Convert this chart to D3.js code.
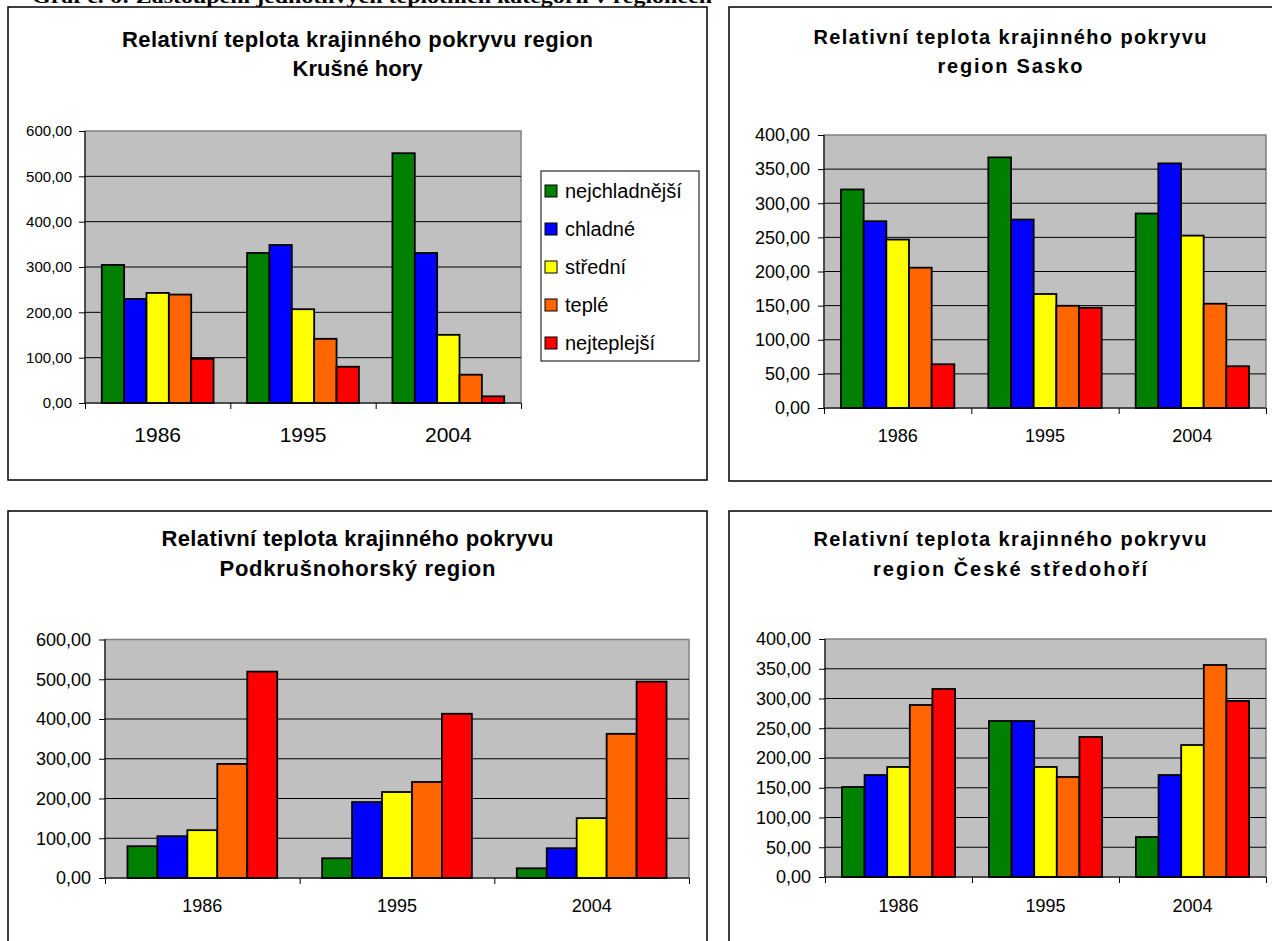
<!DOCTYPE html>
<html>
<head>
<meta charset="utf-8">
<script src="https://cdn.jsdelivr.net/npm/d3@7"></script>
<style>
  body { margin: 0; background: #fff; }
  svg { display: block; font-family: "Liberation Sans", Arial, sans-serif; }
</style>
</head>
<body>
<svg id="chart"></svg>
<script>
const width = 1272;
const height = 941;

// --- data ---
const years = ["1986", "1995", "2004"];
const categories = ["nejchladnější", "chladné", "střední", "teplé", "nejteplejší"];
const colors = ["#008000", "#0000ff", "#ffff00", "#ff6600", "#ff0000"];

// values per year, in category order
const krusneHory = [
  [304.5, 229.6, 242.8, 239.2, 97.6],
  [330.9, 348.5, 206.9, 141.6, 80.0],
  [551.0, 330.9, 150.4, 62.4, 14.7]
];
const sasko = [
  [320.2, 273.7, 246.8, 205.6, 64.1],
  [367.2, 276.1, 167.0, 149.8, 146.9],
  [285.0, 358.4, 252.6, 152.8, 61.2]
];
const podkrusnohorsky = [
  [80.0, 105.2, 120.3, 287.0, 519.2],
  [49.7, 191.0, 216.3, 241.5, 413.2],
  [24.4, 74.9, 150.6, 362.7, 494.0]
];
const ceskeStredohori = [
  [151.3, 171.4, 184.9, 289.1, 316.0],
  [262.2, 262.2, 184.9, 168.1, 235.3],
  [67.2, 171.4, 221.8, 356.3, 295.8]
];

const titles = {
  krusne: ["Relativní teplota krajinného pokryvu region", "Krušné hory"],
  sasko: ["Relativní teplota krajinného pokryvu", "region Sasko"],
  podkr: ["Relativní teplota krajinného pokryvu", "Podkrušnohorský region"],
  ceske: ["Relativní teplota krajinného pokryvu", "region České středohoří"]
};

const heading = "Graf č. 6: Zastoupení jednotlivých teplotních kategorií v regionech";

const fmt = d3.formatLocale({ decimal: ",", thousands: " ", grouping: [3], currency: ["", ""] }).format(".2f");

const svg = d3.select("#chart")
  .attr("width", width)
  .attr("height", height)
  .attr("viewBox", [0, 0, width, height]);

// document caption at the very top (cut by the page edge, as in the scan)
svg.append("text")
  .attr("x", 32)
  .attr("y", 3)
  .attr("font-family", "Liberation Serif, Times New Roman, serif")
  .attr("font-weight", "bold")
  .attr("font-size", 19)
  .attr("textLength", 680)
  .attr("lengthAdjust", "spacingAndGlyphs")
  .text(heading);

function drawPanel(cfg) {
  const g = svg.append("g");

  // outer chart border
  g.append("rect")
    .attr("x", cfg.box[0]).attr("y", cfg.box[1])
    .attr("width", cfg.box[2]).attr("height", cfg.box[3])
    .attr("fill", "#fff")
    .attr("stroke", "#000")
    .attr("stroke-width", 1.5);

  // title
  const cx = cfg.box[0] + cfg.box[2] / 2;
  cfg.title.forEach((t, i) => {
    g.append("text")
      .attr("x", cx)
      .attr("y", cfg.titleY[i])
      .attr("text-anchor", "middle")
      .attr("font-weight", "bold")
      .attr("font-size", cfg.titleSize)
      .attr("textLength", cfg.titleW[i])
      .attr("lengthAdjust", "spacing")
      .attr("fill", "#000")
      .text(t);
  });

  const [px, py, pw, ph] = cfg.plot;
  const plot = g.append("g").attr("transform", `translate(${px},${py})`);

  const y = d3.scaleLinear().domain([0, cfg.max]).range([ph, 0]);
  const x0 = d3.scaleBand().domain(years).range([0, pw]);
  const bw = x0.bandwidth();
  const barW = bw / 6.5; // Excel gap width 150 %
  const x1 = d3.scaleBand().domain(categories).range([0.75 * barW, bw - 0.75 * barW]);

  // plot area
  plot.append("rect")
    .attr("width", pw).attr("height", ph)
    .attr("fill", "#c0c0c0")
    .attr("stroke", "#808080")
    .attr("stroke-width", 1.5);

  const ticks = d3.range(0, cfg.max + 0.001, cfg.step);

  // gridlines
  plot.append("g")
    .selectAll("line")
    .data(ticks.filter(d => d > 0 && d < cfg.max))
    .join("line")
    .attr("x1", 0).attr("x2", pw)
    .attr("y1", d => y(d)).attr("y2", d => y(d))
    .attr("stroke", "#000")
    .attr("stroke-width", 1);

  // bars
  const data = cfg.values;
  plot.append("g")
    .selectAll("g")
    .data(years)
    .join("g")
    .attr("transform", d => `translate(${x0(d)},0)`)
    .selectAll("rect")
    .data((d, i) => categories.map((c, j) => ({ c, v: data[i][j], j })))
    .join("rect")
    .attr("x", d => x1(d.c))
    .attr("y", d => y(d.v))
    .attr("width", x1.bandwidth())
    .attr("height", d => ph - y(d.v))
    .attr("fill", d => colors[d.j])
    .attr("stroke", "#000")
    .attr("stroke-width", 1.8);

  // y axis
  const yAxis = plot.append("g")
    .call(d3.axisLeft(y).tickValues(ticks).tickFormat(fmt).tickSize(6).tickPadding(cfg.yPad))
    .call(a => a.select(".domain").attr("stroke", "#000").attr("d", `M0,0V${ph}`));
  yAxis.selectAll(".tick line").attr("stroke", "#000");
  yAxis.selectAll("text")
    .attr("font-family", "Liberation Sans, Arial, sans-serif")
    .attr("font-size", cfg.yFont)
    .attr("fill", "#000");

  // x axis line + boundary ticks
  const xb = d3.scaleLinear().domain([0, years.length]).range([0, pw]);
  plot.append("g")
    .attr("transform", `translate(0,${ph})`)
    .call(d3.axisBottom(xb).tickValues(d3.range(0, years.length + 1)).tickFormat("").tickSize(6))
    .call(a => a.select(".domain").attr("stroke", "#000").attr("d", `M0,0H${pw}`))
    .call(a => a.selectAll(".tick line").attr("stroke", "#000"));

  // year labels
  plot.append("g")
    .selectAll("text")
    .data(years)
    .join("text")
    .attr("x", d => x0(d) + bw / 2)
    .attr("y", cfg.xLabelY - py)
    .attr("text-anchor", "middle")
    .attr("font-size", cfg.xFont)
    .attr("fill", "#000")
    .text(d => d);

  // legend
  if (cfg.legend) {
    const [lx, ly, lw, lh] = cfg.legend;
    const lg = g.append("g");
    lg.append("rect")
      .attr("x", lx).attr("y", ly).attr("width", lw).attr("height", lh)
      .attr("fill", "#fff").attr("stroke", "#000").attr("stroke-width", 1);
    const item = lg.selectAll("g")
      .data(categories)
      .join("g")
      .attr("transform", (d, i) => `translate(${lx + 4},${ly + 20 + i * 38})`);
    item.append("rect")
      .attr("x", 0).attr("y", -6)
      .attr("width", 12).attr("height", 12)
      .attr("fill", (d, i) => colors[i])
      .attr("stroke", "#000").attr("stroke-width", 1);
    item.append("text")
      .attr("x", 20).attr("y", 7)
      .attr("font-size", 20)
      .attr("fill", "#000")
      .text(d => d);
  }
}

drawPanel({
  box: [8, 7, 699, 473],
  title: titles.krusne, titleY: [47, 76], titleW: [471, 130], titleSize: 22,
  plot: [85, 131, 436, 272],
  max: 600, step: 100, values: krusneHory,
  yFont: 15, yPad: 7, xFont: 21, xLabelY: 442,
  legend: [541, 171, 158, 190]
});

drawPanel({
  box: [729, 7, 562, 474],
  title: titles.sasko, titleY: [44, 73], titleW: [393, 145], titleSize: 20,
  plot: [824, 135, 442, 273],
  max: 400, step: 50, values: sasko,
  yFont: 18, yPad: 8, xFont: 18, xLabelY: 442
});

drawPanel({
  box: [8, 511, 699, 450],
  title: titles.podkr, titleY: [546, 576], titleW: [392, 276], titleSize: 22,
  plot: [105, 639.5, 584, 238.5],
  max: 600, step: 100, values: podkrusnohorsky,
  yFont: 18, yPad: 8, xFont: 18, xLabelY: 912
});

drawPanel({
  box: [729, 511, 562, 450],
  title: titles.ceske, titleY: [546, 576], titleW: [393, 274], titleSize: 20,
  plot: [825, 639, 441, 238],
  max: 400, step: 50, values: ceskeStredohori,
  yFont: 18, yPad: 8, xFont: 18, xLabelY: 912
});
</script>
</body>
</html>
